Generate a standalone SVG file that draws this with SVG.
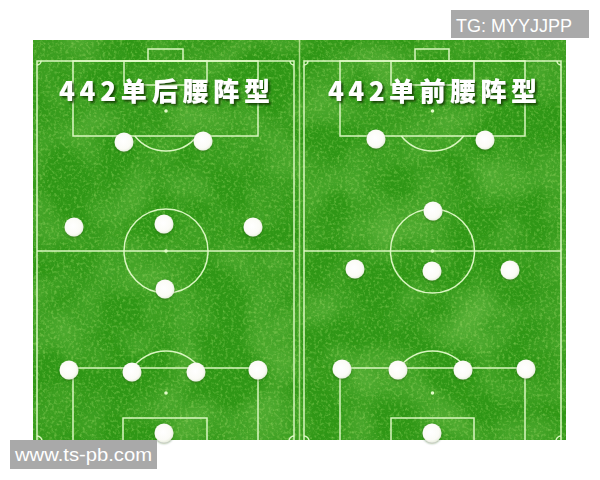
<svg xmlns="http://www.w3.org/2000/svg" width="600" height="480" viewBox="0 0 600 480">
<defs>
<style>
.ln{fill:none;stroke:#e2fbc8;stroke-width:1.5;opacity:0.95}
.dot{fill:#e2fbc8}
.title{font-family:"Noto Sans CJK SC","Noto Sans",sans-serif;font-weight:900;font-size:26px;fill:#ffffff}
.wm{font-family:"Liberation Sans",Arial,sans-serif;font-size:18px;fill:#ffffff}
.ball{fill:url(#ballg)}
</style>
<radialGradient id="ballg" cx="0.45" cy="0.45" r="0.6">
<stop offset="0" stop-color="#ffffff"/>
<stop offset="0.7" stop-color="#fbfbf6"/>
<stop offset="1" stop-color="#e4ecd8"/>
</radialGradient>
<filter id="grass" x="0" y="0" width="100%" height="100%">
<feTurbulence type="fractalNoise" baseFrequency="0.35" numOctaves="3" seed="3" result="n"/>
<feColorMatrix in="n" type="matrix" values="0 0 0 0 0.30  0 0 0 0 0.68  0 0 0 0 0.12  1.3 0 0 0 -0.62" result="light"/>
<feTurbulence type="fractalNoise" baseFrequency="0.02" numOctaves="2" seed="8" result="m"/>
<feColorMatrix in="m" type="matrix" values="0 0 0 0 0.10  0 0 0 0 0.44  0 0 0 0 0.04  1.8 0 0 0 -0.65" result="dark"/>
<feMerge><feMergeNode in="dark"/><feMergeNode in="light"/></feMerge>
</filter>
<filter id="glow" x="-50%" y="-50%" width="200%" height="200%">
<feGaussianBlur in="SourceAlpha" stdDeviation="1.2"/>
<feOffset dx="0" dy="0.5" result="b"/>
<feFlood flood-color="#1d4d0a" flood-opacity="0.5"/>
<feComposite in2="b" operator="in"/>
<feMerge><feMergeNode/><feMergeNode in="SourceGraphic"/></feMerge>
</filter>
<filter id="tshadow" x="-10%" y="-30%" width="120%" height="160%">
<feGaussianBlur in="SourceAlpha" stdDeviation="1.2"/>
<feOffset dx="1.5" dy="1.5" result="b"/>
<feFlood flood-color="#123805" flood-opacity="0.85"/>
<feComposite in2="b" operator="in"/>
<feMerge><feMergeNode/><feMergeNode in="SourceGraphic"/></feMerge>
</filter>
<clipPath id="clipL"><rect x="33" y="40" width="266" height="400"/></clipPath>
<clipPath id="clipR"><rect x="299" y="40" width="267" height="400"/></clipPath>
</defs>

<rect width="600" height="480" fill="#ffffff"/>

<!-- grass -->
<g id="field">
<rect x="33" y="40" width="533" height="400" fill="#2f9716"/>
<rect x="33" y="40" width="533" height="400" fill="#2f9716" filter="url(#grass)"/>
<line x1="299.5" y1="40" x2="299.5" y2="440" stroke="#c9eea4" stroke-width="1.5" opacity="0.8"/>
</g>

<!-- left pitch -->
<g id="pitch-left" clip-path="url(#clipL)">
<rect class="ln" x="37" y="61" width="257" height="385"/>
<rect class="ln" x="148" y="49" width="35" height="12"/>
<rect class="ln" x="124" y="61" width="83" height="24"/>
<rect class="ln" x="73" y="61" width="185" height="75"/>
<circle class="dot" cx="166" cy="111" r="1.8"/>
<path class="ln" d="M134.8 136 A40 40 0 0 0 197.2 136"/>
<line class="ln" x1="37" y1="251" x2="294" y2="251"/>
<circle class="ln" cx="166" cy="251" r="42"/>
<circle class="dot" cx="166" cy="251" r="1.8"/>
<rect class="ln" x="73" y="368" width="185" height="80"/>
<rect class="ln" x="123" y="418" width="84" height="30"/>
<circle class="dot" cx="166" cy="393" r="1.8"/>
<path class="ln" d="M132.3 368 A42 42 0 0 1 199.7 368"/>
<path class="ln" d="M41 61 A4 4 0 0 1 37 65"/>
<path class="ln" d="M290 61 A4 4 0 0 0 294 65"/>
<path class="ln" d="M37 436 A5 5 0 0 1 42 441"/>
<path class="ln" d="M294 436 A5 5 0 0 0 289 441"/>
</g>

<!-- right pitch -->
<g id="pitch-right" clip-path="url(#clipR)">
<rect class="ln" x="304" y="61" width="257" height="385"/>
<rect class="ln" x="415" y="49" width="34" height="12"/>
<rect class="ln" x="391" y="61" width="83" height="24"/>
<rect class="ln" x="340" y="61" width="185" height="75"/>
<circle class="dot" cx="432.5" cy="111" r="1.8"/>
<path class="ln" d="M401.3 136 A40 40 0 0 0 463.7 136"/>
<line class="ln" x1="304" y1="251" x2="561" y2="251"/>
<circle class="ln" cx="432.5" cy="251" r="42"/>
<circle class="dot" cx="432.5" cy="251" r="1.8"/>
<rect class="ln" x="340" y="368" width="185" height="80"/>
<rect class="ln" x="391" y="418" width="83" height="30"/>
<circle class="dot" cx="432.5" cy="393" r="1.8"/>
<path class="ln" d="M398.8 368 A42 42 0 0 1 466.2 368"/>
<path class="ln" d="M308 61 A4 4 0 0 1 304 65"/>
<path class="ln" d="M557 61 A4 4 0 0 0 561 65"/>
<path class="ln" d="M304 436 A5 5 0 0 1 309 441"/>
<path class="ln" d="M561 436 A5 5 0 0 0 556 441"/>
</g>

<!-- titles -->
<g id="title-left" filter="url(#tshadow)">
<text class="title" x="59" y="101" textLength="211" lengthAdjust="spacing">442单后腰阵型</text>
</g>
<g id="title-right" filter="url(#tshadow)">
<text class="title" x="328" y="101" textLength="209" lengthAdjust="spacing">442单前腰阵型</text>
</g>

<!-- players left (4-4-2 holding midfielder) -->
<g id="players-left" filter="url(#glow)">
<g id="L-fw1"><circle class="ball" cx="124" cy="142" r="9.5"/></g>
<g id="L-fw2"><circle class="ball" cx="203" cy="141" r="9.5"/></g>
<g id="L-lm"><circle class="ball" cx="74" cy="227" r="9.5"/></g>
<g id="L-cm"><circle class="ball" cx="164" cy="224" r="9.5"/></g>
<g id="L-rm"><circle class="ball" cx="253" cy="227" r="9.5"/></g>
<g id="L-dm"><circle class="ball" cx="165" cy="289" r="9.5"/></g>
<g id="L-lb"><circle class="ball" cx="69" cy="370" r="9.5"/></g>
<g id="L-cb1"><circle class="ball" cx="132" cy="372" r="9.5"/></g>
<g id="L-cb2"><circle class="ball" cx="196" cy="372" r="9.5"/></g>
<g id="L-rb"><circle class="ball" cx="258" cy="370" r="9.5"/></g>
<g id="L-gk"><circle class="ball" cx="164" cy="433" r="9.5"/></g>
</g>

<!-- players right (4-4-2 attacking midfielder) -->
<g id="players-right" filter="url(#glow)">
<g id="R-fw1"><circle class="ball" cx="376" cy="139" r="9.5"/></g>
<g id="R-fw2"><circle class="ball" cx="485" cy="140" r="9.5"/></g>
<g id="R-am"><circle class="ball" cx="433" cy="211" r="9.5"/></g>
<g id="R-lm"><circle class="ball" cx="355" cy="269" r="9.5"/></g>
<g id="R-cm"><circle class="ball" cx="432" cy="271" r="9.5"/></g>
<g id="R-rm"><circle class="ball" cx="510" cy="270" r="9.5"/></g>
<g id="R-lb"><circle class="ball" cx="342" cy="369" r="9.5"/></g>
<g id="R-cb1"><circle class="ball" cx="398" cy="370" r="9.5"/></g>
<g id="R-cb2"><circle class="ball" cx="463" cy="370" r="9.5"/></g>
<g id="R-rb"><circle class="ball" cx="526" cy="369" r="9.5"/></g>
<g id="R-gk"><circle class="ball" cx="432" cy="433" r="9.5"/></g>
</g>

<!-- watermarks -->
<g id="wm-tg">
<rect x="451" y="10" width="138" height="28" fill="#a9a9a9"/>
<text class="wm" x="456" y="32">TG: MYYJJPP</text>
</g>
<g id="wm-site">
<rect x="10" y="440" width="147" height="29" fill="#a9a9a9"/>
<text class="wm" x="15" y="461" textLength="137" lengthAdjust="spacingAndGlyphs">www.ts-pb.com</text>
</g>
</svg>
